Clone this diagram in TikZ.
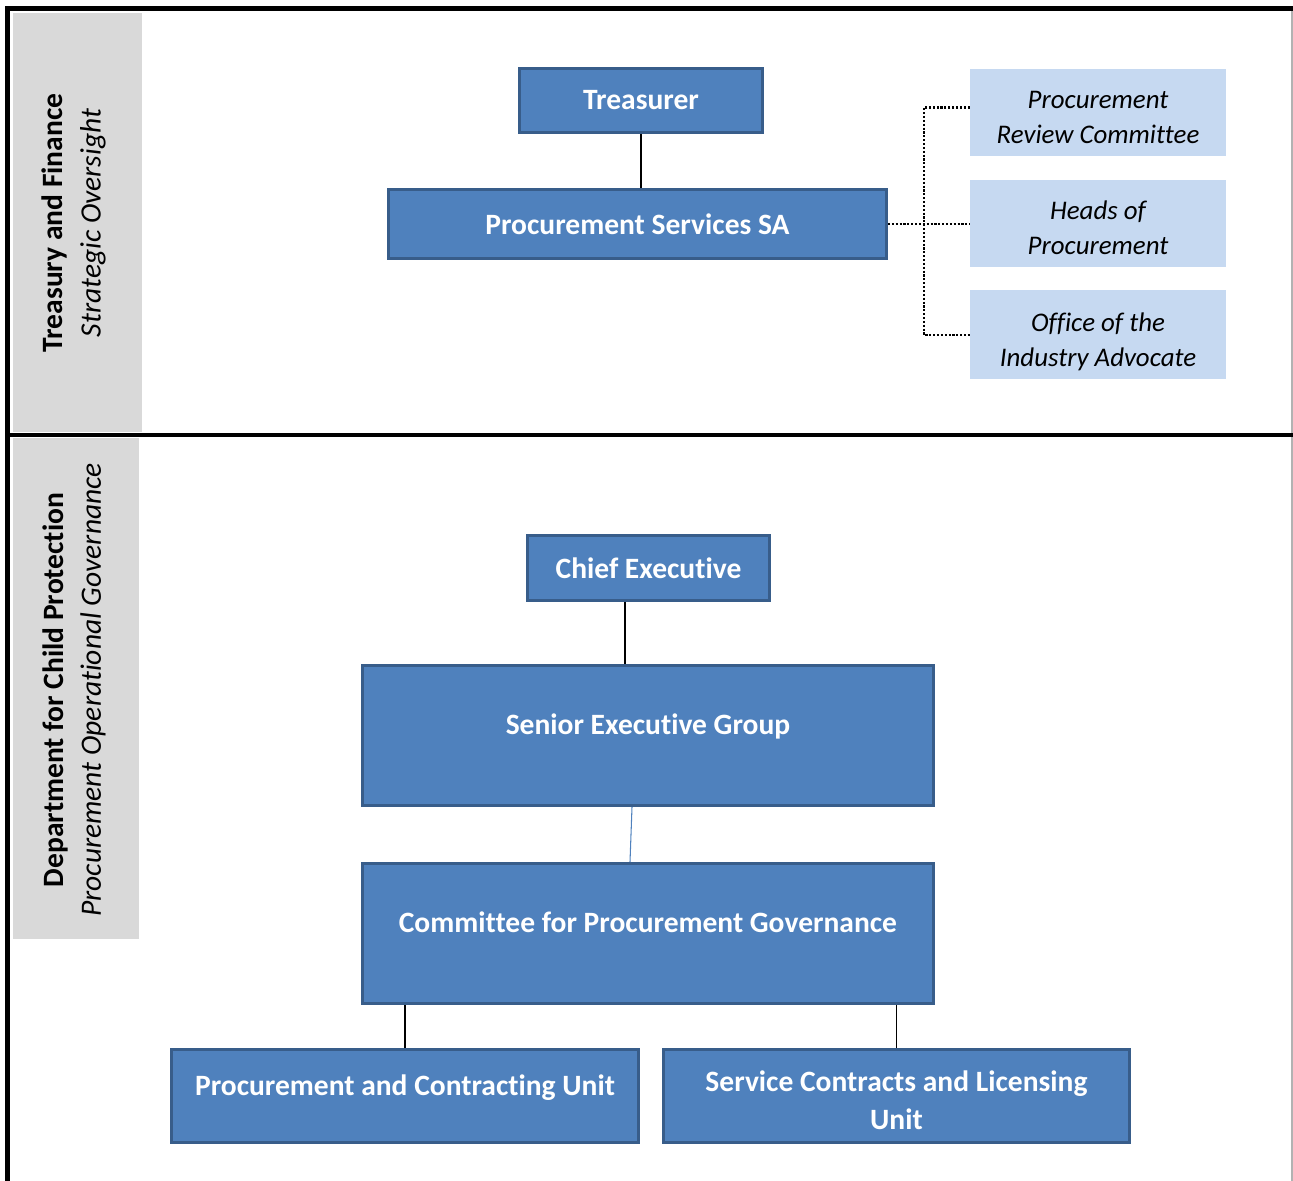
\documentclass[tikz,border=0pt]{standalone}
\usepackage{fontspec}
\setmainfont{Carlito}[Ligatures=NoCommon]
\usepackage{tikz}
\usetikzlibrary{calc,positioning}
\definecolor{boxfill}{HTML}{4F81BD}
\definecolor{boxline}{HTML}{385D8A}
\definecolor{notefill}{HTML}{C6D9F1}
\definecolor{bandfill}{HTML}{D9D9D9}
\tikzset{%
	block/.style     = {draw=boxline, fill=boxfill, line width=1.7pt, rectangle, text=white, align=center, inner sep=0pt, font=\fontsize{16.8}{21.5}\selectfont\bfseries},
	tallblock/.style = {block, text height=0.5cm, text depth=0.53cm}, % text sits high in the box
	note/.style      = {fill=notefill, rectangle, minimum width=5.12cm, minimum height=1.74cm, align=center, text height=1.25cm, text depth=0cm, font=\fontsize{15.3}{19.8}\selectfont\itshape},
	band/.style      = {fill=bandfill},
	sidelabel/.style = {rotate=90, align=center, font=\fontsize{16.8}{21.5}\selectfont},
	link/.style      = {line width=0.9pt},
	dotlink/.style   = {line width=1.2pt, densely dotted},
	frame/.style     = {line width=2.8pt, line cap=rect},
}

\begin{document}
\begin{tikzpicture}
	\useasboundingbox (0,0) rectangle (25.86,-23.62);
	% side bands
	\fill[band] (0.25,-0.26) rectangle (2.84,-8.64);
	\fill[band] (0.26,-8.76) rectangle (2.78,-18.78);
	\node[sidelabel] (tflabel) at (1.48,-4.46) {\textbf{Treasury and Finance}\\\textit{Strategic Oversight}};
	\node[sidelabel] (dcplabel) at (1.48,-13.8) {\textbf{Department for Child Protection}\\\textit{Procurement Operational Governance}};
	
	% strategic oversight
	\node [block, minimum width=4.86cm, minimum height=1.28cm] (treasurer) at (12.82,-2.01) {Treasurer};
	\node [block, minimum width=9.96cm, minimum height=1.38cm] (psa) at (12.75,-4.48) {Procurement Services SA};
	\node [note] (prc) at (21.96,-2.25) {Procurement\\Review Committee};
	\node [note] (hop) [below=0.46cm of prc] {Heads of\\Procurement};
	\node [note, minimum height=1.78cm] (oia) [below=0.46cm of hop] {Office of the\\Industry Advocate};
	\coordinate (jn) at ($(psa.east)+(0.72,0)$);
	
	\draw[link] (treasurer) -- (treasurer |- psa.north);
	\draw[dotlink] (psa.east) -- (psa.east -| hop.west);
	\draw[dotlink] ($(prc.west)+(0,0.1)$) -| (jn) |- (oia.west);
	
	% operational governance
	\node [block, minimum width=4.84cm, minimum height=1.3cm] (ce) at (12.97,-11.36) {Chief Executive};
	\node [tallblock, minimum width=11.42cm, minimum height=2.8cm] (seg) at (12.96,-14.71) {Senior Executive Group};
	\node [tallblock, minimum width=11.42cm, minimum height=2.8cm] (cpg) [below=1.1cm of seg] {Committee for Procurement Governance};
	\node [tallblock, minimum width=9.34cm, minimum height=1.86cm] (pcu) at (8.1,-21.92) {Procurement and Contracting Unit};
	\node [block, minimum width=9.32cm, minimum height=1.86cm, text height=1.34cm, text depth=0cm] (sclu) [right=0.44cm of pcu] {Service Contracts and Licensing\\Unit};
	\coordinate (cedrop) at ($(ce.south)+(-0.47,0)$);
	
	\draw[link] (cedrop) -- (cedrop |- seg.north);
	\draw[boxfill, line width=0.6pt] ($(seg.south)+(-0.32,0)$) -- ($(cpg.north)+(-0.36,0)$);
	\draw[link] (pcu) -- (pcu |- cpg.south);
	\draw[link] (sclu) -- (sclu |- cpg.south);
	
	% frame
	\draw[gray!60, line width=0.6pt] (25.84,-0.17) -- (25.84,-23.62);
	\draw[frame] (0.15,-23.62) -- (0.15,-0.17) -- (25.86,-0.17);
	\draw[frame] (0.15,-8.7) -- (25.86,-8.7);
\end{tikzpicture}
\end{document}
